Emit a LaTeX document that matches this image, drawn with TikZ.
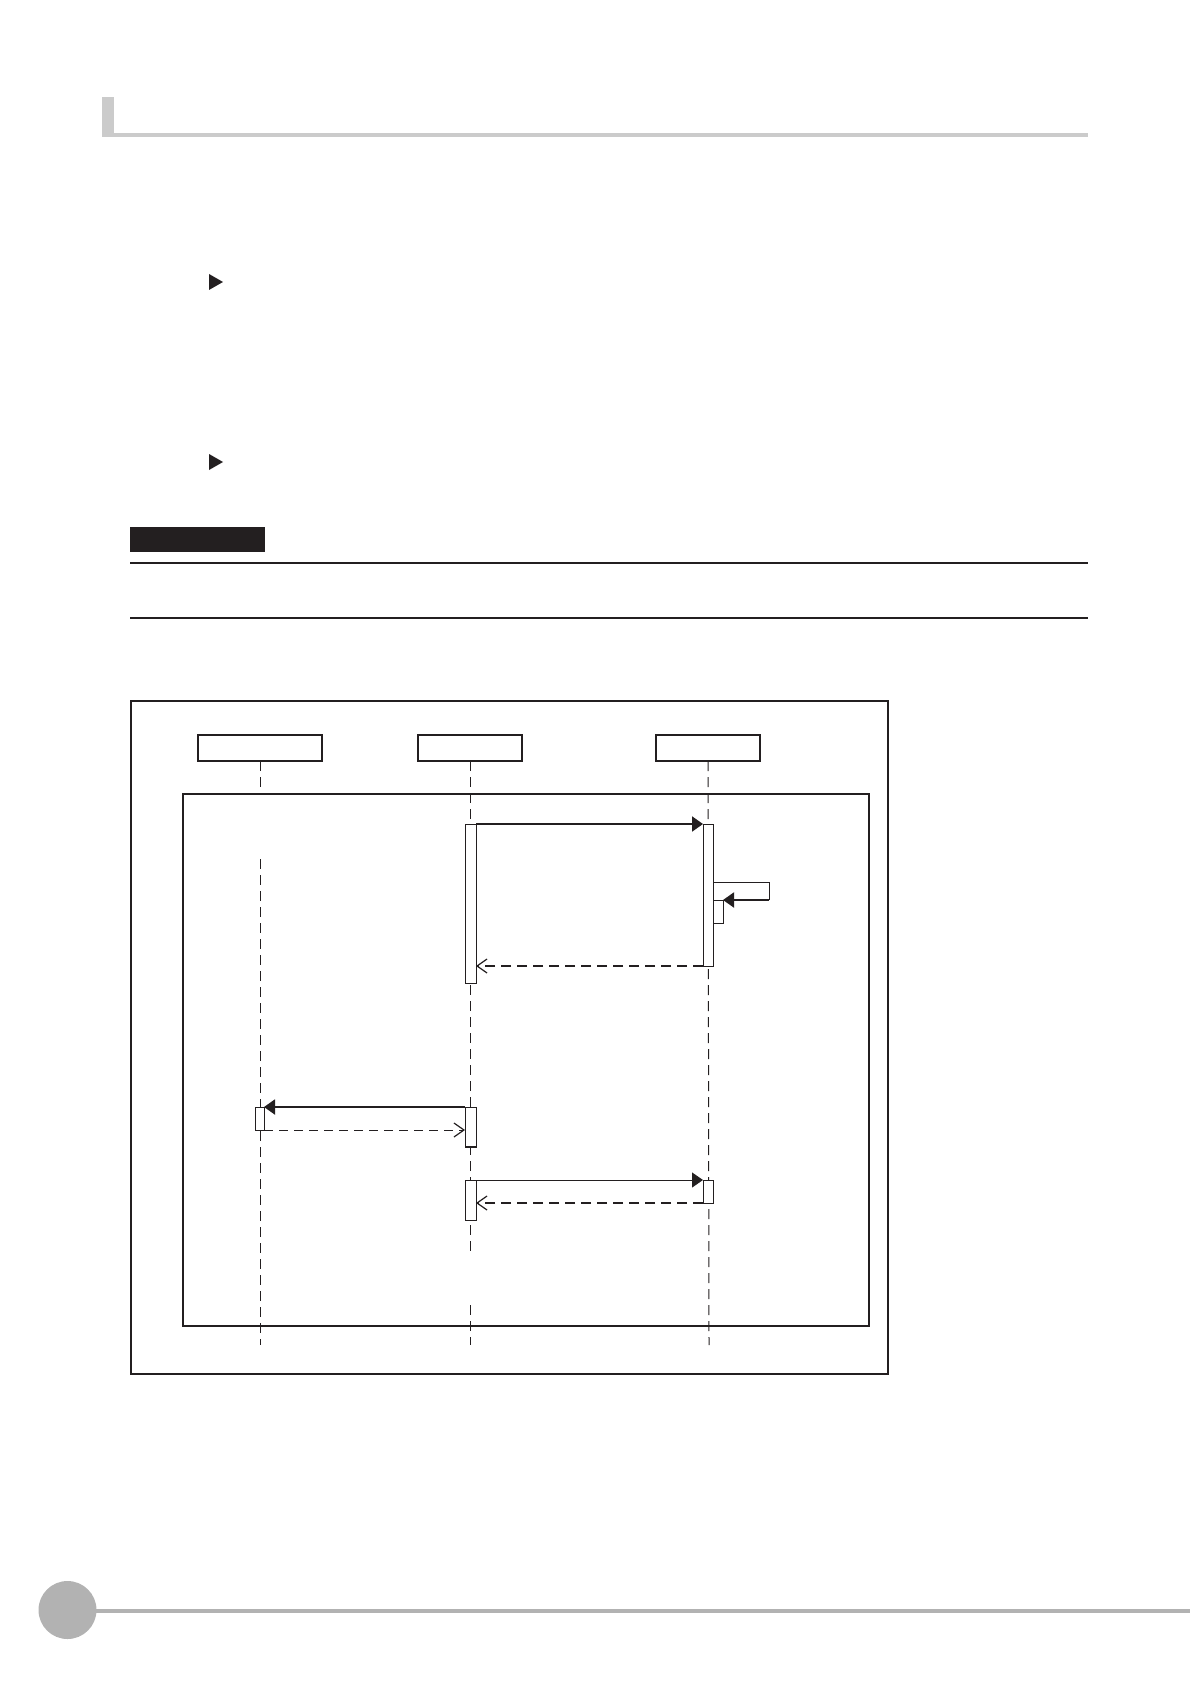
\documentclass[tikz,border=0pt]{standalone}
\usetikzlibrary{arrows.meta,fit}
\definecolor{hdrgray}{HTML}{CBCBCB}
\definecolor{ftgray}{HTML}{B2B2B2}
\definecolor{ink}{HTML}{231F20}
\begin{document}
\begin{tikzpicture}[x=0.5pt,y=-0.5pt,
  bar/.style={draw=ink, fill=white, line width=0.5pt, inner sep=0pt, outer sep=0pt},
  lbox/.style={draw=ink, fill=white, line width=1pt, inner sep=0pt, outer sep=0pt},
  lifeline/.style={draw=ink, line width=0.5pt, dash pattern=on 5pt off 3pt},
  call/.style={draw=ink, line width=1pt, -{Triangle[length=5.5pt,width=7.5pt]}},
  callthin/.style={draw=ink, line width=0.5pt, -{Triangle[length=5.5pt,width=7.5pt]}},
  ret/.style={draw=ink, line width=1pt, dash pattern=on 5pt off 3pt, -{Straight Barb[length=5pt,width=7pt,line width=0.6pt]}},
  retthin/.style={draw=ink, line width=0.5pt, dash pattern=on 4.5pt off 3pt, -{Straight Barb[length=5pt,width=7pt,line width=0.6pt]}},
  rule/.style={draw=ink, line width=0.65pt}]
\useasboundingbox (0,0) rectangle (1190,1684);

% header bar
\fill[hdrgray] (102,97) rectangle (114,137);
\fill[hdrgray] (102,133) rectangle (1088,137);

% bullet triangles
\fill[ink] (209,274) -- (223,282) -- (209,290) -- cycle;
\fill[ink] (209,454) -- (223,462) -- (209,470) -- cycle;

% black label block and rules
\fill[ink] (130,527) rectangle (265,552);
\draw[rule] (130,563) -- (1088,563);
\draw[rule] (130,618) -- (1088,618);

% outer frame
\draw[draw=ink, line width=0.6pt] (131,701) rectangle (888,1374);

% lifeline boxes
\node[lbox, fit={(198,735)(322,761)}] (L1) {};
\node[lbox, fit={(418,735)(522,761)}] (L2) {};
\node[lbox, fit={(656,735)(760,761)}] (L3) {};

% lifeline coordinates
\coordinate (l1a) at (260,789);
\coordinate (l1b) at (260,859);
\coordinate (l1e) at (260,1345);
\coordinate (l2a) at (470,1251);
\coordinate (l2b) at (470,1305);
\coordinate (l2e) at (470,1345);
\coordinate (l3e) at (709,1345);

% inner (loop) frame
\draw[draw=ink, line width=0.7pt] (183,794) rectangle (869,1326);
\draw[draw=ink, line width=1.2pt] (183,794) -- (869,794) -- (869,1326);

% lifelines
\draw[lifeline] (L1.south) -- (l1a);
\draw[lifeline] (l1b) -- (l1e);
\draw[lifeline] (L2.south) -- (l2a);
\draw[lifeline] (l2b) -- (l2e);
\draw[lifeline] (L3.south) -- (l3e);

% activation bars
\node[bar, fit={(465,824)(476,983)}] (b2a) {};
\node[bar, fit={(703,824)(713,966)}] (b3a) {};
\node[bar, fit={(713,900)(723,923)}] (b3n) {};
\node[bar, fit={(255,1107)(264,1130)}] (b1) {};
\node[bar, fit={(465,1107)(476,1147)}] (b2b) {};
\node[bar, fit={(465,1180)(476,1220)}] (b2c) {};
\node[bar, fit={(703,1180)(713,1203)}] (b3b) {};
\draw[draw=ink, line width=1pt] (b2b.south west) -- (b2b.south east);

% messages
\draw[call] (b2a.north east) -- (b3a.north west);
\coordinate (s1) at (713,882);
\coordinate (sc) at (769,900);
\draw[draw=ink, line width=0.5pt] (s1) -| (sc);
\draw[call] (sc) -- (b3n.north east);
\draw[ret] (b3a.south west) -- (b2a.east |- b3a.south west);

\draw[call] (b2b.north west) -- (b1.north east);
\draw[retthin] (b1.south east) -- (b2b.west |- b1.south east);

\draw[callthin] (b2c.north east) -- (b3b.north west);
\draw[ret] (b3b.south west) -- (b2c.east |- b3b.south west);

% footer
\fill[ftgray] (67.5,1610) circle[radius=29];
\draw[draw=ftgray, line width=1.75pt] (96,1611) -- (1190,1611);
\end{tikzpicture}
\end{document}
